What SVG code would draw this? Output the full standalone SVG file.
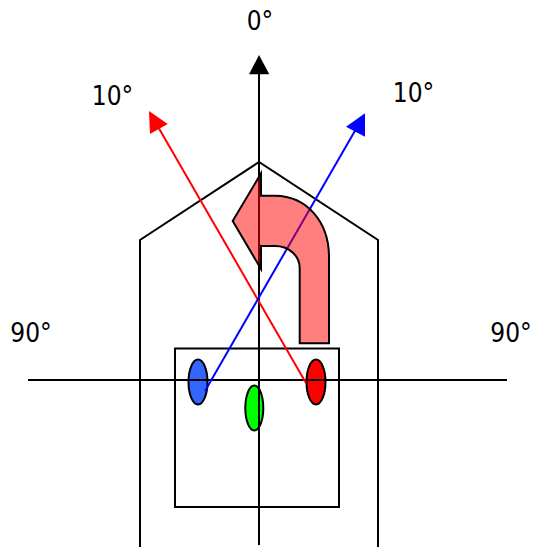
<svg xmlns="http://www.w3.org/2000/svg" width="535" height="547" viewBox="0 0 535 547">
<style>
.l{fill:none;stroke:#000;stroke-width:2}
.e{stroke:#000;stroke-width:2}
text{font-family:"DejaVu Sans Condensed","DejaVu Sans",sans-serif;font-stretch:condensed;font-size:26px;fill:#000;text-anchor:middle}
</style>
<g id="dots">
<ellipse id="blue" class="e" cx="198" cy="382" rx="9.500" ry="22.500" fill="#3366ff"/>
<ellipse id="green" class="e" cx="254.300" cy="408" rx="9" ry="22.500" fill="#00ff00"/>
<ellipse id="red" class="e" cx="316" cy="382" rx="9.500" ry="22.500" fill="#ff0000"/>
</g>
<g id="outline">
<path class="l" d="M140 547V240L259 162L378 240V547"/>
<rect class="l" x="175" y="348.500" width="164" height="158.500"/>
</g>
<g id="connectors">
<path class="l" d="M28 380H507"/>
<path class="l" d="M259 545V72"/>
<polygon points="259,55 269.300,74.300 249,74.300" fill="#000"/>
<path fill="none" stroke="#f00" stroke-width="2" d="M306 383L157 125"/>
<polygon points="149,111 167.700,124 150,134" fill="#f00"/>
<path fill="none" stroke="#00f" stroke-width="2" d="M205 391L356 129"/>
<polygon points="365,113.300 365,136.700 346,126.700" fill="#00f"/>
</g>
<g id="turn-arrow">
<path d="M232.700 221L261 173.500V195.700H275C307 196 329 222 329 257V343.300H299.700V268C299.700 255 288 246 275 246H261V269Z" fill="#ff0000" fill-opacity="0.5" stroke="#000" stroke-width="2"/>
</g>
<g id="labels">
<text x="260" y="30">0°</text>
<text x="112.500" y="104.500">10°</text>
<text x="413.500" y="102">10°</text>
<text x="31" y="342">90°</text>
<text x="511" y="342">90°</text>
</g>
</svg>
